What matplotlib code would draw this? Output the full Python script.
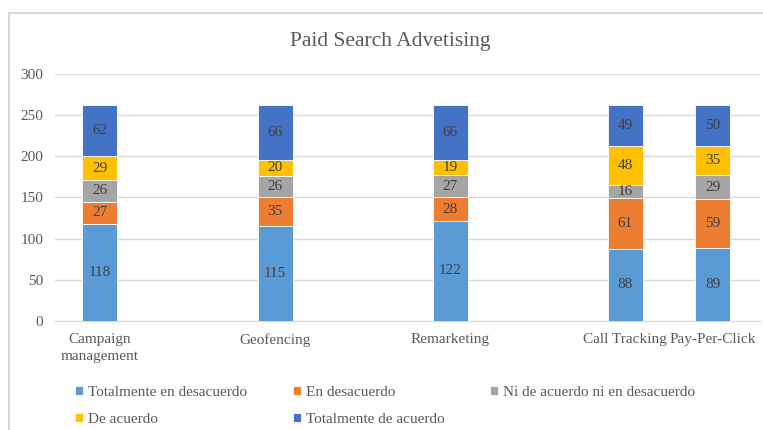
import numpy as np
import matplotlib.pyplot as plt
from matplotlib.lines import Line2D

plt.rcParams['font.family'] = ['Liberation Serif', 'DejaVu Serif']

categories = ['Campaign\nmanagement', 'Geofencing', 'Remarketing', 'Call Tracking', 'Pay-Per-Click']
series_names = ['Totalmente en desacuerdo', 'En desacuerdo', 'Ni de acuerdo ni en desacuerdo',
                'De acuerdo', 'Totalmente de acuerdo']
tot_desacuerdo = [118, 115, 122, 88, 89]
desacuerdo = [27, 35, 28, 61, 59]
neutral = [26, 26, 27, 16, 29]
acuerdo = [29, 20, 19, 48, 35]
tot_acuerdo = [62, 66, 66, 49, 50]

series = [tot_desacuerdo, desacuerdo, neutral, acuerdo, tot_acuerdo]
colors = ['#5B9BD5', '#ED7D31', '#A5A5A5', '#FFC000', '#4472C4']

# bar positions (layout only)
xpos = [0, 1, 2, 3, 3.5]

fig = plt.figure(figsize=(7.63, 4.30), dpi=100)
ax = fig.add_axes([0.0721, 0.2535, 0.924, 0.5744])

bottom = np.zeros(len(categories))
handles = []
for vals, name, c in zip(series, series_names, colors):
    bars = ax.bar(xpos, vals, width=0.2, bottom=bottom, color=c, edgecolor='white',
                  linewidth=0.6, label=name, zorder=3)
    for x, b, v in zip(xpos, bottom, vals):
        ax.text(x, b + v / 2, str(v), ha='center', va='center', fontsize=11, color='#404040', zorder=4)
    bottom += np.array(vals)
    handles.append(bars)

ax.set_xlim(-0.257, 3.771)
ax.set_ylim(0, 300)
ax.set_yticks(range(0, 301, 50))
ax.set_xticks(xpos)
ax.set_xticklabels(categories, linespacing=1.4)
ax.tick_params(axis='both', length=0, labelsize=11, labelcolor='#595959')
ax.tick_params(axis='y', pad=8.5)
ax.tick_params(axis='x', pad=9)
ax.grid(axis='y', color='#D9D9D9', linewidth=1, zorder=0)
for s in ['top', 'right', 'left']:
    ax.spines[s].set_visible(False)
ax.spines['bottom'].set_color('#D9D9D9')

fig.text(0.512, 0.903, 'Paid Search Advetising', ha='center', va='center', fontsize=15.5, color='#595959')

order = [0, 3, 1, 4, 2]
leg = fig.legend([handles[i] for i in order], [series_names[i] for i in order],
                 ncol=3, loc='center left', bbox_to_anchor=(0.088, 0.056), frameon=False,
                 fontsize=11, handlelength=0.55, handleheight=0.55, handletextpad=0.3,
                 columnspacing=3.0, labelspacing=0.88, labelcolor='#595959', borderpad=0)

# chart area border
fig.add_artist(Line2D([8.5 / 763, 1], [1 - 12.5 / 430] * 2, color='#D9D9D9', lw=1.5))
fig.add_artist(Line2D([8.5 / 763] * 2, [0, 1 - 12.5 / 430], color='#D9D9D9', lw=1.5))

fig.savefig('out.png', dpi=100)
